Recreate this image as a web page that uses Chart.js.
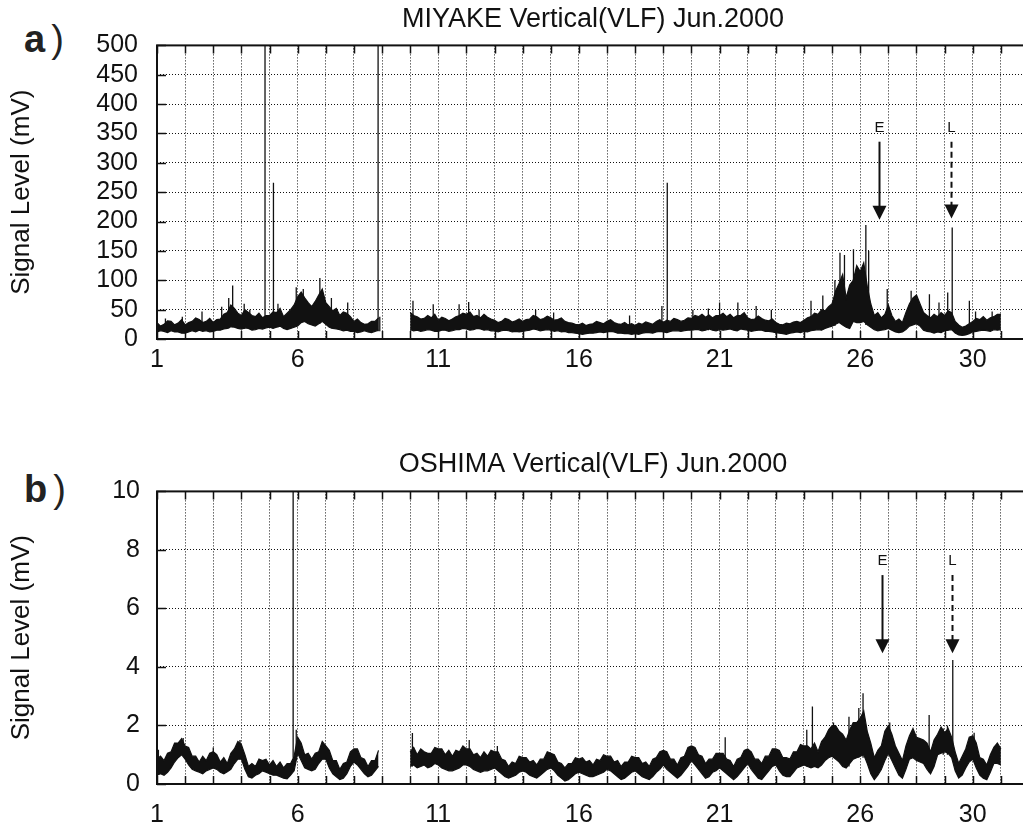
<!DOCTYPE html>
<html>
<head>
<meta charset="utf-8">
<script src="https://cdn.jsdelivr.net/npm/chart.js@4.4.1/dist/chart.umd.min.js"></script>
<style>
  html, body { margin: 0; padding: 0; background: #fff; overflow: hidden; width: 1023px; height: 828px; }
  canvas { position: absolute; left: 0; }
  #chartA { top: 0; }
  #chartB { top: 440px; }
  .tag { position: absolute; font-family: "Liberation Sans", Arial, sans-serif; font-size: 38px; line-height: 38px; color: #222; white-space: nowrap; }
  .tag b { font-weight: bold; }
  .tag span { font-weight: normal; margin-left: 6px; }
</style>
</head>
<body>
<div class="tag" style="left:24px; top:20px;"><b>a</b><span>)</span></div>
<div class="tag" style="left:24px; top:470px;"><b>b</b><span>)</span></div>
<canvas id="chartA" width="1060" height="389"></canvas>
<canvas id="chartB" width="1060" height="388"></canvas>
<script>
const fontFamily = '"Liberation Sans", Arial, Helvetica, sans-serif';
const ink = '#111';

// shared time axis (days of June 2000)
const firstDay = 1;
const axisEnd = 32;
const sampleStep = 0.125; // envelopes read every 3 hours
const dayTicks = [1, 2, 3, 4, 5, 6, 7, 8, 9, 10, 11, 12, 13, 14, 15, 16, 17, 18, 19, 20, 21, 22, 23, 24, 25, 26, 27, 28, 29, 30, 31];
const labelDays = [1, 6, 11, 16, 21, 26, 30];
const arrowLabels = ['E', 'L'];
const arrowDashed = [false, true];

// a) MIYAKE, mV (one line per day)
const titleA = 'MIYAKE Vertical(VLF) Jun.2000';
const upperA = [
  28, 22, 25, 31, 30, 24, 27, 33,
  24, 28, 30, 36, 33, 28, 30, 35,
  28, 33, 34, 42, 45, 58, 52, 44,
  40, 50, 45, 40, 38, 44, 36, 40,
  40, 46, 45, 52, 38, 44, 50, 58,
  72, 80, 70, 62, 55, 64, 75, 85,
  62, 55, 48, 52, 40, 46, 44, 38,
  30, 34, 28, 25, 26, 30, 30, 36,
  null, null, null, null, null, null, null, null,
  45, 40, 38, 34, 35, 40, 36, 42,
  32, 37, 35, 31, 34, 38, 40, 44,
  42, 46, 38, 40, 36, 42, 37, 34,
  32, 28, 30, 35, 33, 29, 31, 34,
  30, 33, 34, 40, 38, 33, 35, 39,
  36, 32, 33, 36, 30, 28, 27, 25,
  24, 27, 23, 25, 26, 30, 28, 26,
  30, 33, 28, 26, 25, 28, 24, 26,
  23, 27, 25, 29, 27, 25, 30, 33,
  28, 32, 30, 35, 33, 30, 32, 36,
  35, 40, 38, 42, 37, 41, 36, 40,
  40, 44, 38, 42, 36, 40, 40, 45,
  36, 33, 34, 39, 35, 32, 31, 34,
  28, 25, 24, 27, 26, 29, 30, 28,
  32, 36, 38, 44, 42, 50, 48, 55,
  60, 82, 95, 110, 70, 92, 100, 125,
  115, 130, 90, 60, 40, 45, 36, 42,
  58, 40, 30, 34, 28, 45, 60, 70,
  75, 60, 45, 40, 36, 42, 38, 45,
  40, 48, 45, 30, 24, 20, 22, 26,
  30, 35, 33, 38, 32, 36, 38, 42,
  42
];
const lowerA = [
  12, 14, 13, 11, 14, 12, 12, 10,
  10, 12, 14, 12, 15, 13, 14, 12,
  13, 15, 15, 17, 18, 21, 20, 18,
  17, 19, 18, 15, 16, 18, 17, 19,
  20, 18, 20, 22, 18, 16, 18, 20,
  22, 28, 30, 26, 24, 22, 26, 30,
  25, 20, 18, 17, 16, 14, 15, 13,
  13, 11, 12, 14, 12, 11, 13, 15,
  null, null, null, null, null, null, null, null,
  16, 14, 15, 13, 14, 16, 15, 13,
  13, 15, 15, 13, 14, 16, 16, 18,
  17, 15, 16, 18, 17, 15, 16, 14,
  14, 12, 14, 15, 14, 12, 13, 12,
  13, 14, 15, 17, 16, 14, 15, 16,
  15, 13, 14, 12, 13, 11, 11, 10,
  9, 8, 9, 10, 10, 11, 12, 11,
  12, 13, 12, 10, 10, 9, 9, 8,
  9, 8, 10, 11, 11, 10, 12, 13,
  12, 11, 13, 14, 14, 13, 14, 15,
  15, 16, 16, 14, 15, 17, 15, 14,
  16, 15, 16, 17, 15, 14, 17, 16,
  15, 13, 14, 15, 15, 13, 13, 12,
  11, 10, 9, 8, 10, 11, 12, 11,
  13, 12, 14, 15, 16, 15, 18, 20,
  22, 25, 28, 24, 20, 18, 30, 28,
  28, 30, 24, 20, 16, 14, 15, 16,
  18, 15, 12, 11, 12, 16, 22, 24,
  26, 22, 15, 13, 12, 10, 12, 11,
  14, 15, 16, 10, 7, 6, 7, 9,
  12, 13, 14, 15, 14, 13, 16, 15,
  16
];
const spikeDayA = [1.3, 1.9, 2.6, 3.3, 3.55, 3.69, 4.1, 4.3, 4.84, 5.14, 5.3, 5.95, 6.2, 6.79, 7.2, 7.78, 8.86, 8.92,
  10.1, 10.82, 11.74, 12.08, 12.45, 14.46, 15.1, 17.8, 18.95, 19.14, 20.05, 20.6, 21.0, 21.65, 22.3, 22.84,
  24.25, 24.67, 25.1, 25.28, 25.44, 25.76, 25.9, 26.2, 26.3, 26.96, 27.81, 28.46, 28.8, 29.11, 29.27, 29.88, 30.1, 30.69];
const spikeBaseA = [14, 12, 15, 16, 18, 20, 17, 18, 20, 20, 20, 25, 30, 26, 18, 15, 13, 13,
  16, 15, 16, 17, 17, 16, 15, 10, 12, 13, 15, 15, 16, 16, 14, 13,
  14, 17, 22, 28, 25, 30, 28, 24, 24, 18, 22, 15, 12, 14, 16, 12, 12, 15];
const spikePeakA = [35, 38, 47, 55, 70, 91, 60, 50, 520, 266, 60, 88, 85, 104, 70, 62, 520, 38,
  65, 59, 59, 63, 50, 50, 45, 40, 56, 266, 50, 52, 62, 62, 56, 50,
  65, 74, 100, 147, 143, 153, 120, 194, 150, 85, 82, 76, 62, 79, 190, 65, 47, 47];
const arrowDayA = [26.68, 29.23];
const arrowFromA = [336, 336];
const arrowToA = [203, 205];

// b) OSHIMA, mV (one line per day)
const titleB = 'OSHIMA Vertical(VLF) Jun.2000';
const upperB = [
  0.85, 0.95, 0.8, 1.05, 1.1, 1.4, 1.4, 1.55,
  1.3, 1.25, 0.95, 0.95, 0.75, 0.95, 0.8, 1.05,
  1.1, 1.0, 0.75, 0.9, 0.7, 1.05, 1.2, 1.45,
  1.35, 1.0, 0.6, 0.7, 0.6, 0.85, 0.8, 0.85,
  0.65, 0.8, 0.6, 0.75, 0.55, 0.7, 0.7, 0.95,
  1.6, 1.4, 1.0, 1.05, 0.85, 1.05, 1.1, 1.45,
  1.3, 1.15, 0.8, 0.8, 0.5, 0.7, 0.75, 1.1,
  1.2, 1.2, 0.9, 0.85, 0.6, 0.8, 0.8, 1.15,
  null, null, null, null, null, null, null, null,
  1.1, 1.25, 1.0, 1.2, 1.1, 1.05, 1.05, 1.25,
  1.2, 1.2, 1.0, 1.15, 0.95, 1.15, 1.1, 1.3,
  1.2, 1.2, 1.0, 1.05, 0.9, 1.1, 0.95, 1.15,
  1.1, 1.1, 0.85, 0.8, 0.6, 0.75, 0.7, 0.95,
  0.9, 0.9, 0.75, 0.8, 0.65, 0.85, 0.85, 1.1,
  1.05, 1.0, 0.75, 0.7, 0.55, 0.7, 0.7, 0.9,
  0.85, 0.9, 0.75, 0.8, 0.65, 0.85, 0.8, 1.0,
  0.95, 0.95, 0.75, 0.8, 0.6, 0.75, 0.75, 0.95,
  0.9, 0.9, 0.7, 0.75, 0.6, 0.85, 0.9, 1.1,
  1.15, 1.1, 0.85, 0.85, 0.65, 0.9, 0.95, 1.25,
  1.3, 1.25, 1.0, 0.95, 0.7, 0.85, 0.85, 1.05,
  1.05, 1.05, 0.85, 0.8, 0.6, 0.85, 0.9, 1.15,
  1.2, 1.1, 0.85, 0.85, 0.7, 0.95, 0.95, 1.2,
  1.2, 1.15, 0.9, 0.9, 0.85, 1.1, 1.1, 1.35,
  1.3, 1.3, 1.2, 1.4, 1.1, 1.45, 1.6, 1.85,
  2.0, 2.0, 1.8, 1.7, 1.5, 1.85, 2.1, 2.1,
  2.25, 2.5, 1.8, 1.4, 0.9, 1.15, 1.3, 1.8,
  2.0, 1.7, 1.3, 1.05, 0.8, 1.3, 1.65, 1.9,
  1.6, 1.55, 1.5, 1.4, 1.1, 1.5, 1.7, 1.95,
  1.75, 1.9, 1.6, 1.1, 0.7, 0.95, 1.2, 1.6,
  1.65, 1.4, 0.9, 0.85, 0.65, 1.0, 1.25, 1.4,
  1.2
];
const lowerB = [
  0.3, 0.35, 0.3, 0.4, 0.55, 0.75, 0.9, 1.0,
  0.85, 0.65, 0.5, 0.45, 0.4, 0.35, 0.45, 0.5,
  0.55, 0.5, 0.4, 0.35, 0.42, 0.5, 0.7, 0.85,
  0.85, 0.5, 0.25, 0.2, 0.3, 0.35, 0.45, 0.4,
  0.35, 0.3, 0.3, 0.25, 0.2, 0.18, 0.3, 0.45,
  1.05, 0.8, 0.55, 0.5, 0.45, 0.5, 0.7, 0.85,
  0.85, 0.55, 0.35, 0.25, 0.15, 0.2, 0.35, 0.6,
  0.75, 0.65, 0.5, 0.35, 0.25, 0.3, 0.45, 0.6,
  null, null, null, null, null, null, null, null,
  0.6, 0.65, 0.55, 0.6, 0.65, 0.55, 0.6, 0.7,
  0.65, 0.55, 0.5, 0.45, 0.45, 0.5, 0.55, 0.65,
  0.65, 0.6, 0.5, 0.45, 0.4, 0.45, 0.45, 0.5,
  0.55, 0.45, 0.35, 0.25, 0.2, 0.25, 0.3, 0.4,
  0.45, 0.4, 0.3, 0.25, 0.2, 0.3, 0.4, 0.5,
  0.55, 0.45, 0.3, 0.2, 0.1, 0.15, 0.25, 0.35,
  0.4, 0.35, 0.3, 0.25, 0.25, 0.3, 0.35, 0.4,
  0.5, 0.45, 0.35, 0.25, 0.15, 0.2, 0.3, 0.4,
  0.45, 0.35, 0.25, 0.2, 0.15, 0.25, 0.4, 0.5,
  0.65, 0.5, 0.4, 0.3, 0.2, 0.3, 0.45, 0.6,
  0.8, 0.65, 0.5, 0.35, 0.2, 0.25, 0.4, 0.45,
  0.55, 0.45, 0.35, 0.25, 0.15, 0.25, 0.4, 0.55,
  0.7, 0.5, 0.35, 0.2, 0.15, 0.3, 0.45, 0.6,
  0.65, 0.45, 0.3, 0.25, 0.25, 0.4, 0.55, 0.6,
  0.65, 0.6, 0.55, 0.6, 0.55, 0.65, 0.8, 0.9,
  0.95, 0.85, 0.75, 0.6, 0.55, 0.7, 0.85, 0.9,
  0.95, 1.0, 0.7, 0.35, 0.15, 0.3, 0.5, 0.8,
  1.05, 0.8, 0.55, 0.3, 0.2, 0.5, 0.85, 0.9,
  0.8, 0.75, 0.7, 0.5, 0.35, 0.6, 1.0, 1.05,
  1.1, 1.05, 0.9, 0.45, 0.2, 0.3, 0.55, 0.75,
  0.85, 0.55, 0.3, 0.2, 0.15, 0.4, 0.7, 0.7,
  0.65
];
const spikeDayB = [1.05, 1.93, 3.0, 3.95, 5.84, 5.95, 10.08, 12.1, 13.1, 21.2, 24.1, 24.3, 25.05, 25.6, 25.95, 26.1, 27.05, 28.45, 28.95, 29.1, 29.29, 30.05];
const spikeBaseB = [0.4, 1.0, 0.6, 0.9, 0.9, 1.0, 0.6, 0.6, 0.5, 0.5, 0.6, 0.6, 0.9, 0.6, 0.9, 0.9, 1.0, 0.4, 1.0, 1.0, 1.1, 0.85];
const spikePeakB = [1.17, 1.57, 1.25, 1.5, 10.5, 1.85, 1.74, 1.5, 1.3, 1.6, 1.85, 2.65, 2.1, 2.3, 2.6, 3.1, 2.1, 2.36, 1.9, 2.0, 4.24, 1.75];
const arrowDayB = [26.76, 29.25];
const arrowFromB = [7.14, 7.14];
const arrowToB = [4.47, 4.47];

function envelope(values) {
  return values.map((v, i) => ({ x: firstDay + i * sampleStep, y: v }));
}

function spikes(days, bases, peaks) {
  const pts = [];
  days.forEach((d, i) => {
    pts.push({ x: d, y: bases[i] }, { x: d, y: peaks[i] }, { x: d, y: null });
  });
  return pts;
}

function arrows(days, from, to) {
  return days.map((d, i) => ({ day: d, from: from[i], to: to[i], label: arrowLabels[i], dashed: arrowDashed[i] }));
}

// frame, inward ticks and the E / L arrows
const framePlugin = {
  id: 'frame',
  afterDatasetsDraw(chart, args, opts) {
    const { ctx, chartArea: area } = chart;
    const x = chart.scales.x;
    const y = chart.scales.y;
    ctx.save();
    ctx.strokeStyle = ink;
    ctx.lineWidth = 2;
    ctx.strokeRect(area.left, area.top, area.right - area.left, area.bottom - area.top);

    ctx.lineWidth = 1.5;
    ctx.beginPath();
    x.ticks.forEach(t => {
      const px = Math.round(x.getPixelForValue(t.value)) + 0.5;
      ctx.moveTo(px, area.bottom);
      ctx.lineTo(px, area.bottom - 8);
      ctx.moveTo(px, area.top);
      ctx.lineTo(px, area.top + 8);
    });
    y.ticks.forEach(t => {
      const py = Math.round(y.getPixelForValue(t.value)) + 0.5;
      ctx.moveTo(area.left, py);
      ctx.lineTo(area.left + 9, py);
    });
    ctx.stroke();

    (opts.arrows || []).forEach(a => {
      const px = Math.round(x.getPixelForValue(a.day)) + 0.5;
      const top = y.getPixelForValue(a.from);
      const tip = y.getPixelForValue(a.to);
      const head = 14;
      ctx.lineWidth = 2;
      ctx.setLineDash(a.dashed ? [6, 4] : []);
      ctx.beginPath();
      ctx.moveTo(px, top);
      ctx.lineTo(px, tip - head + 1);
      ctx.stroke();
      ctx.setLineDash([]);
      ctx.fillStyle = ink;
      ctx.beginPath();
      ctx.moveTo(px - 7, tip - head);
      ctx.lineTo(px + 7, tip - head);
      ctx.lineTo(px, tip);
      ctx.closePath();
      ctx.fill();
      ctx.font = '15px ' + fontFamily;
      ctx.textAlign = 'center';
      ctx.textBaseline = 'alphabetic';
      ctx.fillText(a.label, px, top - 10);
    });
    ctx.restore();
  }
};

function buildChart(id, cfg) {
  return new Chart(document.getElementById(id), {
    type: 'line',
    data: {
      datasets: [
        { data: envelope(cfg.lower), borderColor: ink, borderWidth: 1.2, pointRadius: 0, fill: false },
        { data: envelope(cfg.upper), borderColor: ink, borderWidth: 1.2, pointRadius: 0, backgroundColor: ink, fill: '-1' },
        { data: cfg.spikes, borderColor: ink, borderWidth: 1.3, pointRadius: 0, fill: false }
      ]
    },
    options: {
      responsive: false,
      animation: false,
      layout: { padding: { left: 0, right: 31, top: 0, bottom: 0 } },
      plugins: {
        legend: { display: false },
        tooltip: { enabled: false },
        title: {
          display: true,
          text: cfg.title,
          fullSize: false,
          color: ink,
          font: { family: fontFamily, size: 27, weight: 'normal' },
          padding: cfg.titlePad
        },
        frame: { arrows: cfg.arrows }
      },
      scales: {
        x: {
          type: 'linear',
          min: firstDay,
          max: axisEnd,
          afterBuildTicks: s => { s.ticks = dayTicks.map(v => ({ value: v })); },
          afterFit: s => { s.height = cfg.xAxisHeight; },
          grid: { color: '#111', lineWidth: 1, drawTicks: false },
          border: { display: false, dash: [1, 2] },
          ticks: {
            autoSkip: false,
            maxRotation: 0,
            padding: cfg.xLabelPad,
            color: ink,
            font: { family: fontFamily, size: 25 },
            callback: v => labelDays.includes(v) ? String(v) : ''
          }
        },
        y: {
          min: 0,
          max: cfg.yMax,
          afterFit: s => { s.width = 157; },
          grid: { color: '#111', lineWidth: 1, drawTicks: false },
          border: { display: false, dash: [1, 2] },
          ticks: {
            autoSkip: false,
            stepSize: cfg.yStep,
            padding: cfg.yLabelPad,
            color: ink,
            font: { family: fontFamily, size: 25 }
          },
          title: {
            display: true,
            text: 'Signal Level (mV)',
            color: ink,
            font: { family: fontFamily, size: 26 },
            padding: { top: 6, bottom: 0 }
          }
        }
      }
    },
    plugins: [framePlugin]
  });
}

buildChart('chartA', {
  title: titleA,
  titlePad: { top: 3, bottom: 10 },
  upper: upperA,
  lower: lowerA,
  spikes: spikes(spikeDayA, spikeBaseA, spikePeakA),
  arrows: arrows(arrowDayA, arrowFromA, arrowToA),
  yMax: 500,
  yStep: 50,
  yLabelPad: 19,
  xLabelPad: 6,
  xAxisHeight: 50
});

buildChart('chartB', {
  title: titleB,
  titlePad: { top: 8, bottom: 11 },
  upper: upperB,
  lower: lowerB,
  spikes: spikes(spikeDayB, spikeBaseB, spikePeakB),
  arrows: arrows(arrowDayB, arrowFromB, arrowToB),
  yMax: 10,
  yStep: 2,
  yLabelPad: 17,
  xLabelPad: 16,
  xAxisHeight: 44
});
</script>
</body>
</html>
